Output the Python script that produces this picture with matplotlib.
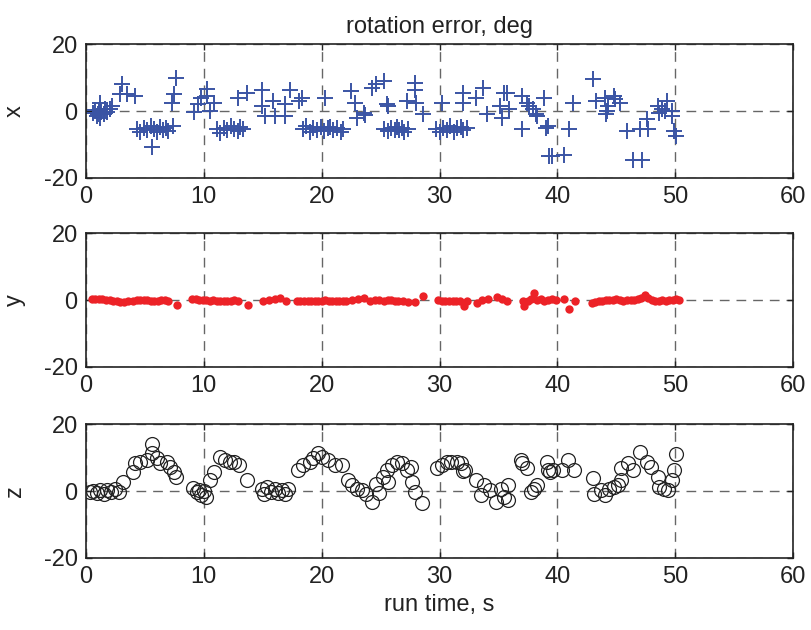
import numpy as np
import matplotlib
matplotlib.use("Agg")
import matplotlib.pyplot as plt

plt.rcParams['font.family'] = ['Liberation Sans', 'DejaVu Sans']
plt.rcParams['axes.unicode_minus'] = False

# rotation error about x (blue plus markers)
t_x = [0.6, 0.8, 0.9, 1.0, 1.1, 1.2, 1.3, 1.5, 1.6, 1.8, 1.2, 2.2, 2.0,
       3.05, 2.9, 3.5, 4.15,
       4.3, 4.6, 4.9, 5.2, 5.5, 5.8, 6.0, 6.3, 6.5, 6.8, 7.0, 7.4, 5.6,
       7.6, 7.5, 7.3,
       9.2, 9.5, 9.8, 10.3, 10.3, 10.9, 10.5,
       11.1, 11.4, 11.7, 12.0, 12.3, 12.6, 12.9, 13.1, 13.3,
       12.9, 13.7, 14.9, 14.9, 15.2, 15.9, 16.0, 16.9, 16.9, 17.3, 18.1, 18.3,
       18.4, 18.7, 19.0, 19.3, 19.6, 19.9, 20.2, 20.5, 20.7, 21.0, 21.3, 21.6, 21.8,
       20.3, 22.5, 22.8, 23.0, 23.6, 23.7, 24.3, 24.6, 25.3, 25.5, 25.6,
       25.3, 25.6, 25.9, 26.2, 26.4, 26.6, 26.8, 27.0, 27.3,
       27.2, 27.9, 27.9, 28.0, 28.6,
       30.2, 29.7, 30.0, 30.3, 30.6, 30.9, 31.2, 31.5, 31.8, 32.0, 32.3,
       32.0, 32.0, 33.1, 33.7, 34.0, 35.1, 35.3, 35.5, 35.7, 35.9,
       37.0, 37.0, 37.4, 37.6, 37.9, 38.2, 38.3, 38.9, 39.0, 39.2, 39.3, 39.5,
       40.6, 41.0, 41.3, 43.0, 43.3, 44.0, 44.2, 44.1, 44.3, 44.8, 44.9, 45.3,
       45.9, 46.4, 47.0, 47.2, 47.6, 47.7, 48.5, 48.6, 48.9, 49.1, 49.3,
       49.7, 49.7, 49.9, 50.1]
rot_x = [-0.5, 0.3, -1.5, -0.8, 0.2, -2.0, -0.3, -1.0, 0.5, -0.2, 2.4, 1.5, 0.5,
         8.1, 5.1, 5.1, 4.5,
         -5.4, -6.3, -5.0, -5.8, -4.6, -5.5, -6.2, -4.8, -5.6, -5.0, -6.0, -4.5, -10.8,
         10.0, 5.1, 2.4,
         -0.3, 2.1, 4.0, 6.6, 4.5, 2.4, 0.0,
         -5.4, -6.5, -5.0, -5.8, -4.6, -5.5, -6.0, -4.8, -5.3,
         4.0, 5.4, 6.3, 1.5, -1.5, 3.0, -1.5, 2.1, -1.5, 6.3, 3.0, 4.0,
         -5.4, -4.6, -6.2, -5.0, -5.6, -4.8, -6.0, -5.2, -4.7, -5.8, -5.0, -6.3, -5.4,
         4.0, 6.0, 2.4, -2.0, -0.6, -1.2, 7.0, 8.1, 9.0, 2.1, 1.5,
         -5.4, -6.0, -5.0, -5.6, -4.8, -5.8, -5.2, -6.2, -5.4,
         3.0, 8.4, 6.3, 2.4, -1.0,
         2.4, -5.4, -6.2, -5.0, -5.8, -4.6, -6.3, -5.2, -4.8, -5.6, -5.0,
         5.4, 2.4, 4.0, 7.0, -1.0, 1.5, -2.0, 5.4, 5.4, 0.6,
         4.5, -5.4, 2.4, 1.5, 0.6, -1.0, -1.5, 4.0, -5.0, -4.5, -13.5, -13.5,
         -13.0, -5.4, 2.4, 9.6, 3.0, 4.0, 0.0, -1.0, 1.5, 4.5, 3.6, 2.4,
         -6.0, -14.5, -5.4, -14.5, -2.4, -5.4, 1.5, -0.6, 0.6, 0.0, 3.0,
         0.0, -1.5, -6.0, -7.5]

# rotation error about y (red dots)
t_y = [0.5, 0.8, 1.1, 1.4, 1.7, 2.0, 2.3, 2.6, 2.9, 3.2, 3.6,
       4.0, 4.3, 4.6, 4.9, 5.2, 5.5, 5.8, 6.1, 6.4, 6.7, 7.0, 7.7,
       9.0, 9.3, 9.6, 9.9, 10.2, 10.5, 10.8, 11.1, 11.4, 11.7, 12.0, 12.3, 12.6, 12.9, 13.75,
       15.0, 15.5, 16.0, 16.5, 17.0, 17.9, 18.2, 18.5, 18.8, 19.1, 19.4, 19.7, 20.0,
       20.3, 20.6, 20.9, 21.2, 21.5, 21.8, 22.1, 22.6, 23.1, 23.6, 24.1, 24.5, 24.9,
       25.3, 25.6, 25.9, 26.2, 26.5, 26.9, 27.3, 27.9, 28.6,
       29.9, 30.2, 30.5, 30.8, 31.1, 31.4, 31.7, 32.1, 32.3, 33.2, 33.6, 34.1, 34.9, 35.3, 35.7,
       37.1, 37.2, 37.5, 37.8, 38.0, 38.3, 38.6, 38.9, 39.2, 39.5, 39.9,
       40.6, 41.0, 41.5,
       42.9, 43.2, 43.5, 43.8, 44.1, 44.4, 44.7, 45.0, 45.3, 45.6, 45.9, 46.2, 46.5, 46.8,
       47.1, 47.4, 47.7, 48.0, 48.3, 48.6, 48.9, 49.2, 49.5, 49.8, 50.1, 50.3]
rot_y = [0.3, 0.4, 0.2, 0.3, 0.0, -0.1, -0.3, -0.4, -0.5, -0.5, -0.3,
         -0.3, -0.1, 0.0, 0.0, -0.1, -0.2, -0.3, -0.2, 0.0, -0.1, -0.4, -1.4,
         0.4, 0.3, -0.1, 0.1, 0.0, -0.2, -0.1, -0.3, -0.2, -0.3, -0.2, -0.3, 0.0, -0.3, -1.4,
         -0.2, 0.0, 0.3, 0.6, -0.2, -0.4, -0.3, -0.3, -0.2, -0.3, -0.2, -0.3, -0.3,
         -0.1, -0.3, -0.2, -0.3, -0.4, -0.2, -0.2, 0.0, 0.4, 0.5, -0.4, 0.0, -0.1,
         -0.2, 0.0, -0.1, -0.2, -0.3, -0.2, -0.5, -0.5, 1.2,
         -0.1, -0.2, -0.2, -0.4, -0.2, -0.3, -0.2, -1.7, -0.3, -0.9, 0.0, 0.3, 0.8, 0.4, -0.3,
         -0.3, -1.7, -0.2, 0.3, 2.2, 0.0, 0.2, -0.2, 0.0, 0.3, 0.0,
         0.3, -2.8, -0.3,
         -0.8, -0.5, -0.3, -0.2, 0.0, -0.1, 0.0, 0.2, -0.1, -0.2, 0.1, 0.0, -0.1, 0.2,
         0.5, 1.5, 0.6, 0.0, -0.3, -0.2, 0.0, -0.3, -0.1, 0.0, 0.2, 0.1]

# rotation error about z (black open circles)
t_z = [0.3, 0.6, 0.9, 1.2, 1.5, 1.8, 2.1, 2.5, 2.8, 3.1,
       4.0, 4.2, 4.6, 5.2, 5.6, 5.6, 6.0, 6.3, 6.9, 7.1, 7.5, 7.6,
       9.1, 9.4, 9.6, 9.8, 10.0, 10.2, 10.5, 10.9, 11.4, 11.8, 12.2, 12.6, 13.0, 13.7,
       14.9, 15.1, 15.4, 15.7, 16.0, 16.3, 16.6, 16.9, 17.1,
       18.0, 18.4, 19.0, 19.3, 19.7, 20.0, 20.5, 21.1, 21.7, 22.2, 22.6, 23.0, 23.4,
       23.8, 24.3, 24.6, 24.9, 25.2, 25.5, 25.6, 26.0, 26.4, 26.8, 27.2, 27.6,
       27.7, 27.9, 28.5,
       29.8, 30.2, 30.6, 31.0, 31.5, 31.8, 32.0, 32.2, 33.1, 33.5, 33.8, 34.3, 34.8,
       35.2, 35.5, 35.8, 35.8, 36.9, 37.0, 37.4, 37.8, 38.0, 38.3, 39.1, 39.2, 39.4,
       39.6, 40.4, 40.9, 41.4, 43.0, 43.1, 43.7, 44.0, 44.4, 44.8, 45.1, 45.4, 45.4,
       46.0, 46.4, 47.0, 47.6, 47.9, 48.5, 48.6, 49.0, 49.4, 49.7, 49.9, 50.1]
rot_z = [-0.3, 0.0, -0.6, 0.2, -0.8, 0.4, -0.2, 0.6, -0.4, 2.7,
         5.8, 8.3, 8.8, 9.3, 14.2, 11.3, 9.8, 8.5, 8.8, 7.3, 5.8, 4.2,
         0.8, -0.4, 0.3, -1.2, 0.0, -1.8, 3.2, 5.8, 10.3, 9.3, 8.8, 8.8, 7.8, 3.2,
         0.5, -0.8, 1.2, -0.2, 0.6, -0.6, 0.3, -0.9, 0.7,
         6.4, 7.8, 8.8, 9.8, 11.5, 10.3, 9.3, 7.8, 7.8, 3.2, 1.7, 0.7, 0.2,
         -0.8, -3.3, 2.2, -0.6, 4.2, 6.2, 2.7, 7.8, 8.8, 8.3, 6.2, 7.3,
         2.7, -0.3, -3.6,
         7.0, 7.8, 8.8, 8.8, 8.8, 8.3, 6.0, 6.2, 3.2, -1.2, 1.7, 0.2, -3.3,
         0.7, -1.8, 1.7, -2.8, 9.3, 8.3, 7.0, -0.3, 0.7, 1.7, 8.8, 6.2, 5.8,
         6.2, 6.4, 9.3, 6.2, 3.9, -0.9, 0.2, -1.2, 0.7, 1.2, 1.7, 3.2, 7.0,
         8.3, 6.2, 11.8, 8.8, 7.3, 4.2, 1.2, 0.7, 0.2, 3.2, 6.2, 11.2]

x_ticks = [0, 10, 20, 30, 40, 50, 60]
y_ticks = [-20, 0, 20]
panel_labels = ['x', 'y', 'z']

fig = plt.figure(figsize=(8.11, 6.3), dpi=100)
left, width, height = 0.106, 0.872, 0.2125
bottoms = [0.7175, 0.4175, 0.1143]
axes = [fig.add_axes([left, b, width, height]) for b in bottoms]

axes[0].plot(t_x, rot_x, '+', color='#3a54a4', markersize=11, markeredgewidth=1.4)
axes[1].plot(t_y, rot_y, 'o', color='#ec2227', markersize=6, markeredgewidth=0)
axes[2].plot(t_z, rot_z, 'o', markerfacecolor='none', markeredgecolor='#222222',
             markersize=10, markeredgewidth=0.9)

for ax, lab in zip(axes, panel_labels):
    ax.set_xlim(0, 60)
    ax.set_ylim(-20, 20)
    ax.set_xticks(x_ticks)
    ax.set_yticks(y_ticks)
    ax.grid(True, color='0.4', linestyle=(0, (7, 5)), linewidth=1.0)
    ax.set_axisbelow(True)
    ax.tick_params(direction='in', length=4, width=1, top=True, right=True,
                   labelsize=17, colors='#222222', pad=6)
    for s in ax.spines.values():
        s.set_linewidth(1.2)
        s.set_color('#222222')
    ax.set_ylabel(lab, fontsize=17, color='#222222')
    ax.yaxis.set_label_coords(-0.085, 0.5)

axes[0].set_title('rotation error, deg', fontsize=17, color='#222222', pad=8)
axes[2].set_xlabel('run time, s', fontsize=17, color='#222222', labelpad=4)

fig.savefig('out.png', dpi=100)
